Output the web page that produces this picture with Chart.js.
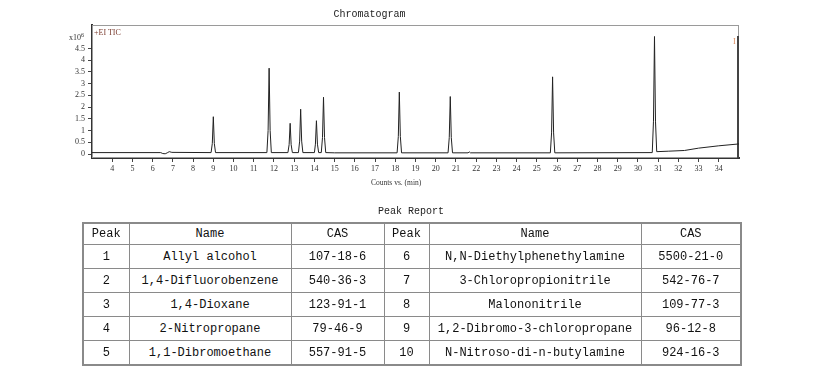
<!DOCTYPE html>
<html><head><meta charset="utf-8">
<script src="https://cdn.jsdelivr.net/npm/chart.js@4.4.1/dist/chart.umd.min.js"></script>
<style>
html,body{margin:0;padding:0;background:#fff;width:818px;height:385px;overflow:hidden;}
#wrap{position:absolute;left:0;top:0;width:818px;height:195px;}
.lbl{position:absolute;white-space:nowrap;line-height:1;}
table{position:absolute;left:82px;top:222px;width:658px;border-collapse:collapse;table-layout:fixed;
 font:12px "Liberation Mono","DejaVu Sans Mono",monospace;color:#111;border:2px solid #8a8a8a;}
td,th{border:1px solid #8a8a8a;text-align:center;padding:0;font-weight:normal;white-space:nowrap;overflow:hidden;}
th{height:20px;}
td{height:23px;}
</style></head><body>
<div id="wrap"><canvas id="c" width="818" height="195"></canvas></div>
<div class="lbl" style="left:69px;top:32px;font:8px 'Liberation Serif',serif;color:#333">x10<sup style="font-size:6px;vertical-align:3px">6</sup></div>
<div class="lbl" style="left:94px;top:28px;font:8px 'Liberation Serif',serif;color:#7a3b2e">+EI TIC</div>
<div class="lbl" style="left:733px;top:37px;font:8px 'Liberation Serif',serif;color:#d9875a">I</div>
<div class="lbl" style="left:371px;top:178px;font:7.5px 'Liberation Serif',serif;color:#333">Counts vs. (min)</div>
<div class="lbl" style="left:378px;top:206px;font:10px 'Liberation Mono',monospace;color:#222">Peak Report</div>
<table id="tbl"></table>
<script>
// Chromatogram trace (retention time in min, counts x10^6)
const retentionTime = [3.0, 6.40, 6.50, 6.62, 6.72, 6.82, 6.95,
  8.89, 8.95, 9.00, 9.05, 9.11,
  11.65, 11.71, 11.76, 11.81, 11.87,
  12.69, 12.75, 12.80, 12.85, 12.91,
  13.21, 13.27, 13.32, 13.37, 13.43,
  14.00, 14.05, 14.10, 14.15, 14.21,
  14.34, 14.40, 14.45, 14.50, 14.56,
  15.0,
  18.09, 18.15, 18.20, 18.25, 18.31,
  20.61, 20.67, 20.72, 20.77, 20.83,
  21.60, 21.66, 21.72,
  25.67, 25.73, 25.78, 25.83, 25.89,
  30.71, 30.77, 30.82, 30.87, 30.93,
  31.5, 32.3, 33.0, 34.0, 35.0];
const abundance = [0.06, 0.06, 0.02, 0.01, 0.05, 0.10, 0.07,
  0.06, 0.45, 1.59, 0.45, 0.06,
  0.06, 1.00, 3.66, 1.00, 0.06,
  0.06, 0.40, 1.31, 0.40, 0.06,
  0.06, 0.55, 1.91, 0.55, 0.06,
  0.06, 0.42, 1.42, 0.42, 0.06,
  0.06, 0.70, 2.42, 0.70, 0.06,
  0.05,
  0.05, 0.75, 2.64, 0.75, 0.05,
  0.05, 0.70, 2.45, 0.70, 0.05,
  0.05, 0.09, 0.05,
  0.05, 0.90, 3.29, 0.90, 0.05,
  0.06, 1.40, 5.01, 1.40, 0.10,
  0.12, 0.15, 0.25, 0.35, 0.43];
const xTickValues = [4,5,6,7,8,9,10,11,12,13,14,15,16,17,18,19,20,21,22,23,24,25,26,27,28,29,30,31,32,33,34];
const yTickValues = [0,0.5,1,1.5,2,2.5,3,3.5,4,4.5];
const yTickLabels = ['0','0.5','1','1.5','2','2.5','3','3.5','4','4.5'];

// Peak report table
const peakNumbers = [1,2,3,4,5,6,7,8,9,10];
const compoundNames = ['Allyl alcohol','1,4-Difluorobenzene','1,4-Dioxane','2-Nitropropane','1,1-Dibromoethane',
  'N,N-Diethylphenethylamine','3-Chloropropionitrile','Malononitrile','1,2-Dibromo-3-chloropropane','N-Nitroso-di-n-butylamine'];
const casNumbers = ['107-18-6','540-36-3','123-91-1','79-46-9','557-91-5','5500-21-0','542-76-7','109-77-3','96-12-8','924-16-3'];

const tbl = document.getElementById('tbl');
let html = '<colgroup><col style="width:46px"><col style="width:162px"><col style="width:93px"><col style="width:45px"><col style="width:212px"><col style="width:100px"></colgroup>';
html += '<tr><th>Peak</th><th>Name</th><th>CAS</th><th>Peak</th><th>Name</th><th>CAS</th></tr>';
const half = peakNumbers.length/2;
for (let i=0;i<half;i++){
  html += '<tr><td>'+peakNumbers[i]+'</td><td>'+compoundNames[i]+'</td><td>'+casNumbers[i]+'</td><td>'+
    peakNumbers[i+half]+'</td><td>'+compoundNames[i+half]+'</td><td>'+casNumbers[i+half]+'</td></tr>';
}
tbl.innerHTML = html;

const framePlugin = {
  id:'frame',
  beforeDatasetsDraw(chart){
    const a = chart.chartArea, ctx = chart.ctx;
    ctx.save();
    ctx.strokeStyle = '#9a9a9a'; ctx.lineWidth = 1;
    ctx.strokeRect(a.left+0.5, a.top+0.5, a.right-a.left-1, a.bottom-a.top-1);
    ctx.strokeStyle = '#444'; ctx.lineWidth = 2;
    ctx.beginPath(); ctx.moveTo(a.right-1, a.top+11); ctx.lineTo(a.right-1, a.bottom); ctx.stroke();
    ctx.restore();
  }
};

new Chart(document.getElementById('c'), {
  type:'line',
  data:{datasets:[{
    data: retentionTime.map((t,i)=>({x:t, y:abundance[i]})),
    borderColor:'#222', borderWidth:1, pointRadius:0, tension:0, fill:false
  }]},
  options:{
    responsive:false, animation:false, devicePixelRatio:1,
    layout:{padding:{left:0,right:79,top:0,bottom:0}},
    plugins:{
      legend:{display:false}, tooltip:{enabled:false},
      title:{display:true, text:'Chromatogram', color:'#222',
        font:{family:'Liberation Mono', size:10, weight:'normal'}, padding:{top:8,bottom:5}}
    },
    scales:{
      x:{type:'linear', min:3, max:35,
        afterBuildTicks:s=>{ s.ticks = xTickValues.map(v=>({value:v})); },
        afterFit:s=>{ s.height = 37; },
        grid:{drawOnChartArea:false, tickLength:4, color:'#444'},
        border:{color:'#333', width:2},
        ticks:{font:{family:'Liberation Serif', size:8}, color:'#333', padding:2, maxRotation:0, autoSkip:false}
      },
      y:{min:-0.17, max:5.5,
        afterBuildTicks:s=>{ s.ticks = yTickValues.map(v=>({value:v})); },
        afterFit:s=>{ s.width = 92; },
        grid:{drawOnChartArea:false, tickLength:4, color:'#444'},
        border:{color:'#333', width:2},
        ticks:{font:{family:'Liberation Serif', size:8}, color:'#333', padding:3, autoSkip:false,
          callback:(v,i)=>yTickLabels[i]}
      }
    }
  },
  plugins:[framePlugin]
});
</script>
</body></html>
